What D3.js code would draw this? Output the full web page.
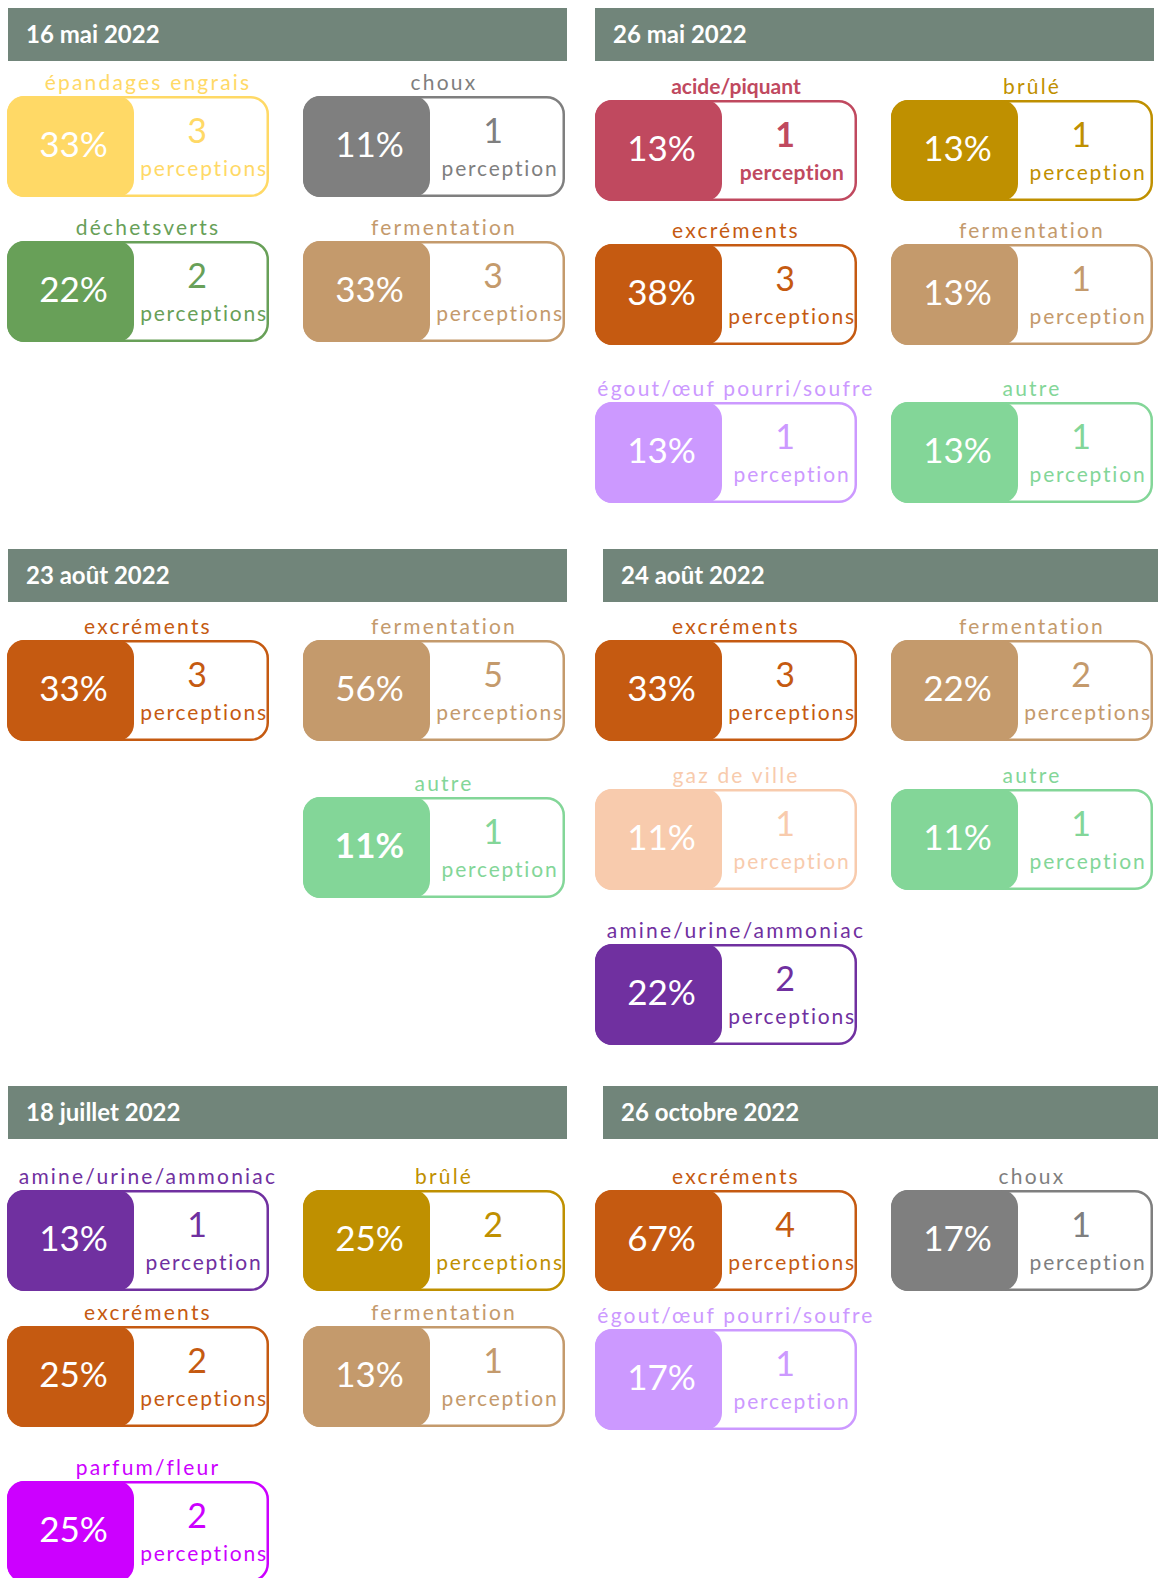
<!DOCTYPE html>
<html>
<head>
<meta charset="utf-8">
<script src="https://cdn.jsdelivr.net/npm/d3@7"></script>
<style>
  body { margin: 0; background: #fff; }
  svg { display: block; font-family: Lato, "Open Sans", sans-serif; }
</style>
</head>
<body>
<div id="chart"></div>
<script>
'use strict';

// one header per date
var panelDates = ['16 mai 2022', '26 mai 2022', '23 août 2022', '24 août 2022', '18 juillet 2022', '26 octobre 2022'];

// one entry per card
var cardPanel = [0, 0, 0, 0,
                 1, 1, 1, 1, 1, 1,
                 2, 2, 2,
                 3, 3, 3, 3, 3,
                 4, 4, 4, 4, 4,
                 5, 5, 5];
var cardOdour = ['épandages engrais', 'choux', 'déchetsverts', 'fermentation',
                 'acide/piquant', 'brûlé', 'excréments', 'fermentation', 'égout/œuf pourri/soufre', 'autre',
                 'excréments', 'fermentation', 'autre',
                 'excréments', 'fermentation', 'gaz de ville', 'autre', 'amine/urine/ammoniac',
                 'amine/urine/ammoniac', 'brûlé', 'excréments', 'fermentation', 'parfum/fleur',
                 'excréments', 'choux', 'égout/œuf pourri/soufre'];
var cardPercent = [33, 11, 22, 33,
                   13, 13, 38, 13, 13, 13,
                   33, 56, 11,
                   33, 22, 11, 11, 22,
                   13, 25, 25, 13, 25,
                   67, 17, 17];
var cardCount = [3, 1, 2, 3,
                 1, 1, 3, 1, 1, 1,
                 3, 5, 1,
                 3, 2, 1, 1, 2,
                 1, 2, 2, 1, 2,
                 4, 1, 1];

// layout: grid cell (column, row) of each card inside its panel
var cardCol = [0, 1, 0, 1,  0, 1, 0, 1, 0, 1,  0, 1, 1,  0, 1, 0, 1, 0,  0, 1, 0, 1, 0,  0, 1, 0];
var cardRow = [0, 0, 1, 1,  0, 0, 1, 1, 2, 2,  0, 0, 1,  0, 0, 1, 1, 2,  0, 0, 1, 1, 2,  0, 0, 1];

// styles
var odourColor = {
    'épandages engrais': '#ffd966',
    'choux': '#7f7f7f',
    'déchetsverts': '#68a058',
    'fermentation': '#c49a6c',
    'acide/piquant': '#c0495f',
    'brûlé': '#bf9000',
    'excréments': '#c55a11',
    'égout/œuf pourri/soufre': '#cc99ff',
    'autre': '#83d698',
    'gaz de ville': '#f8cbad',
    'amine/urine/ammoniac': '#7030a0',
    'parfum/fleur': '#cc00ff'
};
var boldText = {4: ['label', 'count'], 12: ['percent']};

var W = 1158, H = 1578;
var headerH = 53;
var cardW = 262, cardH = 101, blockW = 127, radius = 17;

var svg = d3.select('#chart').append('svg')
    .attr('width', W)
    .attr('height', H);

// panel placement
var panelY = d3.scaleOrdinal().domain([0, 1, 2]).range([8, 549, 1086]);
var headerX = function (i) { return i % 2 === 0 ? 8 : (i > 1 ? 603 : 595); };
var headerWidth = function (i) { return i % 2 === 0 ? 559 : (i > 1 ? 555 : 559); };
// vertical offset of each card row below the panel header
var panelRowY = [[88, 233], [92, 236, 394], [91, 248], [91, 240, 395], [104, 240, 395], [104, 243]];

// card placement inside a panel
var cardX0 = d3.scaleOrdinal().domain([0, 1]).range([7, 595]);
var colX = d3.scaleLinear().domain([0, 1]).range([0, 296]);

var headers = svg.selectAll('g.header')
    .data(panelDates)
    .enter()
    .append('g')
    .attr('class', 'header')
    .attr('transform', function (d, i) {
        return 'translate(' + headerX(i) + ',' + panelY(Math.floor(i / 2)) + ')';
    });

headers.append('rect')
    .attr('width', function (d, i) { return headerWidth(i); })
    .attr('height', headerH)
    .attr('fill', '#71857a');

headers.append('text')
    .attr('x', 18)
    .attr('y', 35)
    .attr('font-size', '24px')
    .attr('font-weight', 'bold')
    .attr('fill', '#ffffff')
    .text(function (d) { return d; });

var cards = cardOdour.map(function (o, i) {
    return {odour: o, percent: cardPercent[i], count: cardCount[i],
            panel: cardPanel[i], col: cardCol[i], row: cardRow[i], idx: i};
});

var g = svg.selectAll('g.card')
    .data(cards)
    .enter()
    .append('g')
    .attr('class', 'card')
    .attr('transform', function (d) {
        var rowY = d3.scaleOrdinal().domain([0, 1, 2]).range(panelRowY[d.panel]);
        var x = cardX0(d.panel % 2) + colX(d.col);
        var y = panelY(Math.floor(d.panel / 2)) + rowY(d.row);
        return 'translate(' + x + ',' + y + ')';
    });

var isBold = function (d, part) {
    var b = boldText[d.idx];
    return b && b.indexOf(part) >= 0 ? 'bold' : 'normal';
};

g.append('rect')
    .attr('x', 1.25)
    .attr('y', 1.25)
    .attr('width', cardW - 2.5)
    .attr('height', cardH - 2.5)
    .attr('rx', radius)
    .attr('fill', '#ffffff')
    .attr('stroke', function (d) { return odourColor[d.odour]; })
    .attr('stroke-width', 2.5);

g.append('rect')
    .attr('width', blockW)
    .attr('height', cardH)
    .attr('rx', radius)
    .attr('fill', function (d) { return odourColor[d.odour]; });

g.append('text')
    .attr('x', blockW / 2 + 3)
    .attr('y', 61)
    .attr('text-anchor', 'middle')
    .attr('font-size', '35px')
    .attr('font-weight', function (d) { return isBold(d, 'percent'); })
    .attr('fill', '#ffffff')
    .text(function (d) { return d.percent + '%'; });

g.append('text')
    .attr('x', 190)
    .attr('y', 47)
    .attr('text-anchor', 'middle')
    .attr('font-size', '34px')
    .attr('font-weight', function (d) { return isBold(d, 'count'); })
    .attr('fill', function (d) { return odourColor[d.odour]; })
    .text(function (d) { return d.count; });

g.append('text')
    .attr('x', 197)
    .attr('y', 80)
    .attr('text-anchor', 'middle')
    .attr('font-size', '21px')
    .attr('letter-spacing', function (d) { return isBold(d, 'count') === 'bold' ? '0.4px' : '1.8px'; })
    .attr('font-weight', function (d) { return isBold(d, 'count'); })
    .attr('fill', function (d) { return odourColor[d.odour]; })
    .text(function (d) { return d.count > 1 ? 'perceptions' : 'perception'; });

g.append('text')
    .attr('x', cardW / 2 + 10)
    .attr('y', -6)
    .attr('text-anchor', 'middle')
    .attr('font-size', '21px')
    .attr('letter-spacing', function (d) { return isBold(d, 'label') === 'bold' ? '0px' : '2.2px'; })
    .attr('font-weight', function (d) { return isBold(d, 'label'); })
    .attr('fill', function (d) { return odourColor[d.odour]; })
    .text(function (d) { return d.odour; });
</script>
</body>
</html>
